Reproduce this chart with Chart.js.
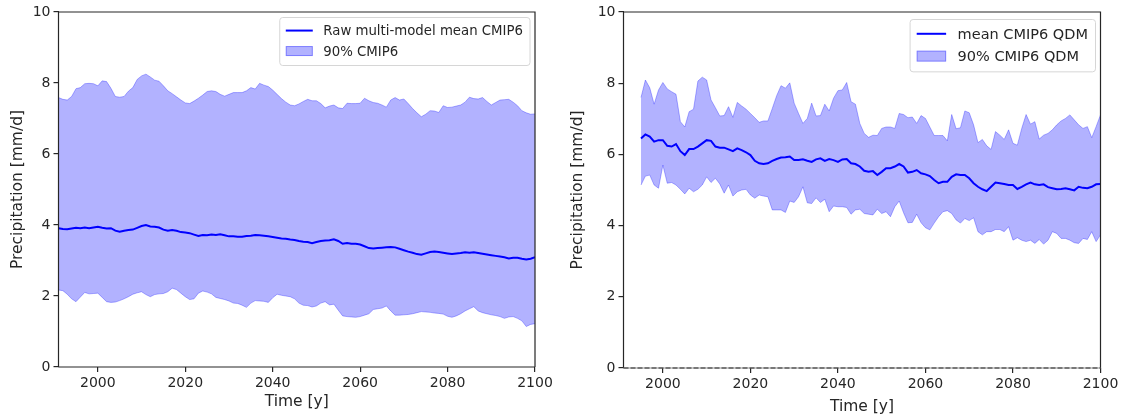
<!DOCTYPE html>
<html>
<head>
<meta charset="utf-8">
<script src="https://cdn.jsdelivr.net/npm/chart.js@4.4.1/dist/chart.umd.min.js"></script>
<style>
  body { margin: 0; background: #fff; }
  .panel { position: absolute; top: 0; }
</style>
</head>
<body>
<div class="panel" style="left:0"><canvas id="rawChart" width="560" height="418"></canvas></div>
<div class="panel" style="left:560px"><canvas id="qdmChart" width="563" height="418"></canvas></div>
<script>
// yearly precipitation, raw CMIP6 ensemble, 1991-2100
const RAW_START = 1991;
const rawMean = [
  3.91, 3.89, 3.88, 3.90, 3.92, 3.91, 3.93, 3.91, 3.93, 3.95,
  3.92, 3.90, 3.91, 3.84, 3.81, 3.84, 3.86, 3.87, 3.92, 3.97,
  4.00, 3.96, 3.95, 3.93, 3.87, 3.84, 3.86, 3.84, 3.80, 3.79,
  3.77, 3.73, 3.69, 3.72, 3.71, 3.73, 3.72, 3.74, 3.71, 3.68,
  3.68, 3.67, 3.67, 3.69, 3.70, 3.72, 3.71, 3.70, 3.68, 3.66,
  3.64, 3.62, 3.61, 3.59, 3.58, 3.55, 3.53, 3.52, 3.49, 3.52,
  3.55, 3.56, 3.57, 3.60, 3.55, 3.47, 3.49, 3.47, 3.47, 3.45,
  3.40, 3.35, 3.34, 3.35, 3.36, 3.37, 3.38, 3.37, 3.33, 3.29,
  3.25, 3.22, 3.18, 3.16, 3.20, 3.24, 3.25, 3.24, 3.22, 3.20,
  3.18, 3.20, 3.21, 3.23, 3.22, 3.23, 3.21, 3.19, 3.17, 3.15,
  3.13, 3.11, 3.09, 3.06, 3.08, 3.08, 3.05, 3.03, 3.05, 3.09
];
const rawUpper = [
  7.59, 7.54, 7.52, 7.62, 7.84, 7.87, 7.98, 7.99, 7.98, 7.92,
  8.06, 8.04, 7.85, 7.62, 7.60, 7.62, 7.77, 7.87, 8.10, 8.20,
  8.25, 8.17, 8.08, 8.05, 7.92, 7.78, 7.70, 7.61, 7.52, 7.44,
  7.42, 7.49, 7.57, 7.66, 7.76, 7.78, 7.76, 7.68, 7.63, 7.68,
  7.73, 7.73, 7.73, 7.78, 7.87, 7.83, 7.99, 7.94, 7.90, 7.80,
  7.68, 7.56, 7.46, 7.38, 7.36, 7.41, 7.48, 7.54, 7.50, 7.50,
  7.42, 7.30, 7.35, 7.38, 7.30, 7.28, 7.43, 7.42, 7.42, 7.43,
  7.57, 7.50, 7.45, 7.43, 7.38, 7.32, 7.52, 7.59, 7.52, 7.55,
  7.42, 7.28, 7.16, 7.05, 7.12, 7.22, 7.21, 7.17, 7.36, 7.31,
  7.32, 7.35, 7.38, 7.46, 7.60, 7.56, 7.55, 7.59, 7.48, 7.38,
  7.45, 7.52, 7.53, 7.54, 7.46, 7.36, 7.22, 7.16, 7.12, 7.13
];
const rawLower = [
  2.17, 2.15, 2.05, 1.92, 1.84, 1.97, 2.10, 2.06, 2.07, 2.08,
  1.96, 1.84, 1.82, 1.83, 1.87, 1.92, 1.98, 2.05, 2.09, 2.12,
  2.04, 1.98, 2.04, 2.06, 2.07, 2.12, 2.22, 2.18, 2.08, 1.98,
  1.90, 1.92, 2.08, 2.14, 2.11, 2.06, 1.96, 1.93, 1.90, 1.86,
  1.80, 1.79, 1.74, 1.68, 1.80, 1.87, 1.86, 1.85, 1.82, 1.95,
  2.05, 2.02, 2.00, 1.98, 1.92, 1.80, 1.74, 1.73, 1.69, 1.72,
  1.80, 1.84, 1.75, 1.77, 1.60, 1.44, 1.42, 1.41, 1.40, 1.42,
  1.46, 1.50, 1.62, 1.64, 1.66, 1.72, 1.58, 1.46, 1.46, 1.47,
  1.48, 1.50, 1.53, 1.56, 1.55, 1.54, 1.52, 1.51, 1.49, 1.43,
  1.40, 1.44, 1.50, 1.58, 1.64, 1.70, 1.58, 1.53, 1.50, 1.47,
  1.45, 1.42, 1.37, 1.41, 1.42, 1.37, 1.30, 1.14, 1.20, 1.22
];

// yearly precipitation, QDM bias-corrected CMIP6, 1995-2100
const QDM_START = 1995;
const qdmMean = [
  6.45, 6.56, 6.50, 6.36, 6.40, 6.40,
  6.24, 6.22, 6.29, 6.09, 5.98, 6.15, 6.15, 6.22, 6.31, 6.40,
  6.38, 6.22, 6.19, 6.19, 6.14, 6.09, 6.17, 6.12, 6.06, 5.98,
  5.82, 5.75, 5.73, 5.75, 5.82, 5.87, 5.91, 5.92, 5.94, 5.84,
  5.84, 5.86, 5.82, 5.79, 5.86, 5.89, 5.82, 5.87, 5.84, 5.79,
  5.86, 5.87, 5.75, 5.73, 5.66, 5.54, 5.51, 5.53, 5.42, 5.51,
  5.61, 5.61, 5.66, 5.73, 5.66, 5.49, 5.51, 5.56, 5.47, 5.44,
  5.39, 5.28, 5.19, 5.23, 5.23, 5.37, 5.44, 5.42, 5.42, 5.33,
  5.19, 5.09, 5.02, 4.97, 5.09, 5.21, 5.19, 5.17, 5.14, 5.14,
  5.03, 5.09, 5.16, 5.21, 5.16, 5.14, 5.16, 5.08, 5.05, 5.02,
  5.03, 5.05, 5.02, 4.99, 5.09, 5.06, 5.05, 5.09, 5.16, 5.17
];
const qdmUpper = [
  7.60, 8.09, 7.87, 7.41, 7.81, 8.02,
  7.84, 7.76, 7.69, 6.92, 6.77, 7.20, 7.27, 8.06, 8.17, 8.09,
  7.53, 7.31, 7.08, 7.09, 7.34, 7.04, 7.46, 7.36, 7.27, 7.15,
  7.03, 6.90, 6.94, 6.94, 7.29, 7.65, 7.93, 7.86, 8.01, 7.44,
  7.15, 6.87, 7.01, 7.44, 7.08, 7.09, 7.41, 7.22, 7.58, 7.79,
  7.81, 8.02, 7.48, 7.41, 6.87, 6.59, 6.48, 6.54, 6.53, 6.73,
  6.77, 6.77, 6.73, 7.15, 7.12, 7.03, 7.05, 6.87, 7.09, 7.01,
  6.77, 6.53, 6.53, 6.53, 6.38, 7.12, 6.72, 6.75, 7.22, 7.17,
  6.83, 6.33, 6.42, 6.24, 6.14, 6.64, 6.54, 6.42, 6.69, 6.31,
  6.26, 6.73, 7.12, 6.85, 6.92, 6.43, 6.54, 6.59, 6.69, 6.83,
  6.94, 7.01, 7.11, 6.97, 6.83, 6.73, 6.78, 6.47, 6.78, 7.11
];
const qdmLower = [
  5.14, 5.39, 5.42, 5.14, 5.05, 5.70,
  5.19, 5.21, 5.14, 5.02, 4.89, 5.05, 4.95, 5.02, 5.14, 5.37,
  5.21, 5.33, 5.17, 4.91, 5.14, 4.83, 4.95, 5.00, 5.02, 4.86,
  4.77, 4.86, 4.83, 4.81, 4.44, 4.44, 4.44, 4.37, 4.69, 4.65,
  4.81, 5.09, 4.64, 4.62, 4.78, 4.65, 4.74, 4.39, 4.55, 4.53,
  4.53, 4.51, 4.32, 4.44, 4.46, 4.34, 4.32, 4.30, 4.46, 4.34,
  4.39, 4.25, 4.53, 4.69, 4.36, 4.08, 4.09, 4.32, 4.08, 3.94,
  3.88, 4.07, 4.25, 4.39, 4.42, 4.34, 4.16, 4.07, 4.20, 4.14,
  4.22, 3.83, 3.74, 3.83, 3.83, 3.89, 3.89, 3.83, 3.97, 3.59,
  3.66, 3.59, 3.55, 3.59, 3.50, 3.61, 3.48, 3.59, 3.83, 3.78,
  3.64, 3.64, 3.59, 3.52, 3.50, 3.64, 3.61, 3.83, 3.55, 3.74
];

const xTicks = [2000, 2020, 2040, 2060, 2080, 2100];
const yTicks = [0, 2, 4, 6, 8, 10];

const INK = '#262626';
const BAND = 'rgba(0, 0, 255, 0.3)';
const FONT = "'DejaVu Sans', sans-serif";

function toPoints(values, start) {
  return values.map((y, i) => ({ x: start + i, y }));
}

// axes frame and in-axes legend, drawn after the datasets
const framePlugin = {
  id: 'frame',
  afterDatasetsDraw(chart, args, opts) {
    const { ctx, chartArea: a } = chart;
    ctx.save();
    ctx.strokeStyle = INK;
    ctx.lineWidth = 1.2;
    ctx.beginPath();
    ctx.moveTo(a.left, a.bottom);
    ctx.lineTo(a.left, a.top);
    ctx.lineTo(a.right, a.top);
    ctx.lineTo(a.right, a.bottom);
    ctx.stroke();
    ctx.strokeStyle = opts.bottomColor || INK;
    ctx.beginPath();
    ctx.moveTo(a.left, a.bottom);
    ctx.lineTo(a.right, a.bottom);
    ctx.stroke();
    if (opts.dashZero) {
      // dashed reference line at zero precipitation
      ctx.strokeStyle = INK;
      ctx.setLineDash([5, 2]);
      ctx.beginPath();
      ctx.moveTo(a.left, a.bottom);
      ctx.lineTo(a.right, a.bottom);
      ctx.stroke();
    }
    ctx.restore();
  },
  afterDraw(chart, args, opts) {
    const items = opts.items;
    if (!items) return;
    const { ctx, chartArea: a } = chart;
    const fs = opts.fontSize;
    ctx.save();
    ctx.font = fs + 'px ' + FONT;
    const textW = Math.max(...items.map(t => ctx.measureText(t.text).width));
    const pad = fs * 0.49, handle = fs * 2.03, gap = fs * 0.79, row = fs * 1.54;
    const w = pad + handle + gap + textW + pad;
    const h = pad * 2 + row * items.length - fs * 0.45;
    const x0 = a.right - 5.5 - w;
    const y0 = a.top + opts.top;
    ctx.fillStyle = 'rgba(255,255,255,0.8)';
    ctx.strokeStyle = '#d6d6d6';
    ctx.lineWidth = 1;
    ctx.beginPath();
    ctx.roundRect(x0 + 0.5, y0 + 0.5, w, h, 3);
    ctx.fill();
    ctx.stroke();
    items.forEach((it, i) => {
      const cy = y0 + pad + fs * 0.53 + i * row;
      const hx = x0 + pad;
      if (it.type === 'line') {
        ctx.strokeStyle = 'blue';
        ctx.lineWidth = 2;
        ctx.beginPath();
        ctx.moveTo(hx, cy);
        ctx.lineTo(hx + handle, cy);
        ctx.stroke();
      } else {
        const ph = fs * 0.75;
        ctx.fillStyle = BAND;
        ctx.fillRect(hx, cy - ph / 2, handle, ph);
        ctx.strokeStyle = BAND;
        ctx.lineWidth = 1;
        ctx.strokeRect(hx + 0.5, cy - ph / 2 + 0.5, handle - 1, ph - 1);
      }
      ctx.fillStyle = INK;
      ctx.textBaseline = 'middle';
      ctx.textAlign = 'left';
      ctx.fillText(it.text, hx + handle + gap, cy + 1);
    });
    ctx.restore();
  }
};

function buildChart(canvasId, cfg) {
  const datasets = [
    {
      label: cfg.meanLabel,
      data: toPoints(cfg.mean, cfg.start),
      borderColor: 'blue',
      borderWidth: 2,
      pointRadius: 0,
      fill: false
    },
    {
      label: cfg.bandLabel,
      data: toPoints(cfg.upper, cfg.start),
      borderColor: BAND,
      backgroundColor: BAND,
      borderWidth: 1,
      pointRadius: 0,
      fill: '+1'
    },
    {
      label: 'lower',
      data: toPoints(cfg.lower, cfg.start),
      borderColor: BAND,
      borderWidth: 1,
      pointRadius: 0,
      fill: false
    }
  ];

  return new Chart(document.getElementById(canvasId), {
    type: 'line',
    data: { datasets },
    options: {
      responsive: false,
      animation: false,
      events: [],
      layout: { padding: { left: 0, top: 12, right: cfg.padRight, bottom: 0 } },
      plugins: {
        legend: { display: false },
        tooltip: { enabled: false },
        frame: {
          items: cfg.legend,
          top: cfg.legendTop,
          fontSize: cfg.legendFont,
          dashZero: cfg.dashZero,
          bottomColor: cfg.bottomColor
        }
      },
      scales: {
        x: {
          type: 'linear',
          min: 1991,
          max: 2100,
          afterBuildTicks: s => { s.ticks = xTicks.map(v => ({ value: v })); },
          afterFit: s => { s.height = 418 - 12 - cfg.plotHeight; },
          grid: { display: true, drawOnChartArea: false, drawTicks: true, tickLength: 5, color: INK, lineWidth: 1.2 },
          border: { display: false },
          ticks: { color: INK, font: { family: FONT, size: 14 }, padding: 3, maxRotation: 0, callback: v => String(v) },
          title: { display: true, text: 'Time [y]', color: INK, font: { family: FONT, size: 15.5 }, padding: { top: 0, bottom: cfg.titleBottom } }
        },
        y: {
          min: 0,
          max: 10,
          afterBuildTicks: s => { s.ticks = yTicks.map(v => ({ value: v })); },
          afterFit: s => { s.width = cfg.plotLeft; },
          grid: { display: true, drawOnChartArea: false, drawTicks: true, tickLength: 5, color: INK, lineWidth: 1.2 },
          border: { display: false },
          ticks: { color: INK, font: { family: FONT, size: 14 }, padding: 3 },
          title: { display: true, text: 'Precipitation [mm/d]', color: INK, font: { family: FONT, size: 15.5 }, padding: { top: 9, bottom: 0 } }
        }
      }
    },
    plugins: [framePlugin]
  });
}

buildChart('rawChart', {
  start: RAW_START,
  mean: rawMean,
  upper: rawUpper,
  lower: rawLower,
  meanLabel: 'Raw multi-model mean CMIP6',
  bandLabel: '90% CMIP6',
  legend: [
    { type: 'line', text: 'Raw multi-model mean CMIP6' },
    { type: 'patch', text: '90% CMIP6' }
  ],
  legendTop: 5,
  legendFont: 13.3,
  plotLeft: 58.5,
  padRight: 25,
  plotHeight: 355,
  titleBottom: 6.5
});

buildChart('qdmChart', {
  start: QDM_START,
  mean: qdmMean,
  upper: qdmUpper,
  lower: qdmLower,
  meanLabel: 'mean CMIP6 QDM',
  bandLabel: '90% CMIP6 QDM',
  legend: [
    { type: 'line', text: 'mean CMIP6 QDM' },
    { type: 'patch', text: '90% CMIP6 QDM' }
  ],
  legendTop: 7,
  legendFont: 14.5,
  plotLeft: 63.5,
  padRight: 22.5,
  plotHeight: 356,
  titleBottom: 1.5,
  dashZero: true,
  bottomColor: '#9a9a9a'
});
</script>
</body>
</html>
